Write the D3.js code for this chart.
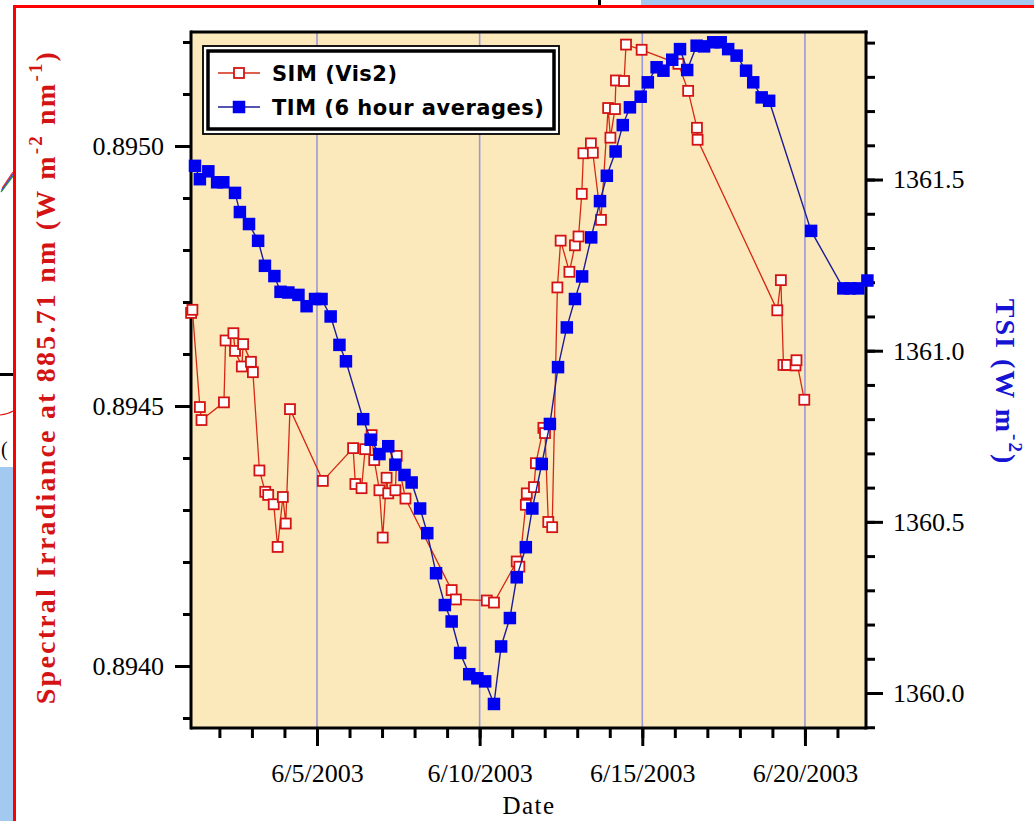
<!DOCTYPE html>
<html><head><meta charset="utf-8">
<script src="https://cdn.jsdelivr.net/npm/d3@7"></script>
<style>
html,body{margin:0;padding:0;background:#fff;}
svg{display:block;}
</style></head><body>
<svg id="chart" width="1034" height="821"></svg>
<script>
// SIM Vis2 spectral irradiance at 885.71 nm — time as day of June 2003 (fractional)
const simDay = [1.13, 1.17, 1.40, 1.45, 2.14, 2.19, 2.43, 2.48, 2.69, 2.73, 2.97, 3.03,
  3.23, 3.41, 3.50, 3.67, 3.79, 3.95, 4.04, 4.17, 5.18,
  6.11, 6.18, 6.37, 6.48, 6.68, 6.76, 6.92, 7.02, 7.14, 7.19, 7.41, 7.45, 7.72,
  9.14, 9.27, 10.22, 10.44,
  11.14, 11.22, 11.42, 11.45, 11.67, 11.73, 11.96, 12.01, 12.11, 12.23,
  12.39, 12.49, 12.76, 12.93, 13.04, 13.14, 13.19, 13.42, 13.48, 13.73,
  13.95, 14.02, 14.16, 14.19, 14.44, 14.50, 14.98,
  16.11, 16.41, 16.68, 16.70,
  19.15, 19.26, 19.34, 19.45, 19.71, 19.74, 19.98];
const simIrr = [0.894679, 0.894685, 0.894498, 0.894473, 0.894507, 0.894626, 0.894640, 0.894606, 0.894576, 0.894619, 0.894585, 0.894565,
  0.894376, 0.894335, 0.894329, 0.894311, 0.894229, 0.894325, 0.894274, 0.894494, 0.894356,
  0.894419, 0.894350, 0.894342, 0.894417, 0.894444, 0.894396, 0.894338, 0.894247, 0.894362, 0.894332, 0.894338, 0.894404, 0.894322,
  0.894146, 0.894128, 0.894126, 0.894122,
  0.894201, 0.894191, 0.894310, 0.894332, 0.894344, 0.894390, 0.894458, 0.894448, 0.894277, 0.894267,
  0.894728, 0.894818, 0.894758, 0.894809, 0.894826, 0.894908, 0.894986, 0.895005, 0.894987, 0.894858,
  0.895073, 0.895016, 0.895071, 0.895126, 0.895125, 0.895195, 0.895185,
  0.895158, 0.895106, 0.895035, 0.895012,
  0.894684, 0.894742, 0.894579, 0.894579, 0.894578, 0.894588, 0.894512];

// TIM total solar irradiance, 6 hour averages
const timDay = [1.25, 1.40, 1.66, 1.93, 2.12, 2.48, 2.63, 2.91, 3.19, 3.40,
  3.69, 3.88, 4.12, 4.43, 4.68, 4.94, 5.14, 5.42, 5.69, 5.89,
  6.42, 6.65, 6.92, 7.19, 7.41, 7.69, 7.91, 8.17, 8.39, 8.66,
  8.93, 9.14, 9.40, 9.68, 9.93, 10.17, 10.44, 10.66, 10.93, 11.14,
  11.42, 11.62, 11.91, 12.16, 12.41, 12.68, 12.93, 13.15, 13.43, 13.70,
  13.91, 14.18, 14.40, 14.62, 14.95, 15.17, 15.44, 15.65, 15.92, 16.16,
  16.38, 16.67, 16.90, 17.18, 17.41, 17.64, 17.90, 18.19, 18.41, 18.67,
  18.90, 20.19, 21.18, 21.39, 21.64, 21.92];
const timTsi = [1361.540, 1361.501, 1361.524, 1361.492, 1361.492, 1361.461, 1361.405, 1361.370, 1361.321, 1361.248,
  1361.218, 1361.172, 1361.170, 1361.163, 1361.130, 1361.151, 1361.151, 1361.100, 1361.017, 1360.969,
  1360.800, 1360.740, 1360.698, 1360.721, 1360.667, 1360.637, 1360.615, 1360.539, 1360.467, 1360.350,
  1360.257, 1360.209, 1360.117, 1360.055, 1360.043, 1360.034, 1359.968, 1360.136, 1360.219, 1360.338,
  1360.426, 1360.539, 1360.669, 1360.786, 1360.952, 1361.068, 1361.151, 1361.217, 1361.331, 1361.437,
  1361.511, 1361.582, 1361.659, 1361.711, 1361.742, 1361.784, 1361.828, 1361.818, 1361.850, 1361.881,
  1361.820, 1361.891, 1361.889, 1361.901, 1361.901, 1361.881, 1361.862, 1361.818, 1361.784, 1361.740,
  1361.730, 1361.350, 1361.182, 1361.182, 1361.182, 1361.205];

const dateTickDays = [5, 10, 15, 20];
const leftTicks = [0.8940, 0.8945, 0.8950];
const rightTicks = [1360.0, 1360.5, 1361.0, 1361.5];
const legendLabels = ["SIM (Vis2)", "TIM (6 hour averages)"];

const base = new Date(2003, 5, 1);
const toDate = d => new Date(base.getTime() + (d - 1) * 864e5);

const svg = d3.select("#chart");
const W = 1034, H = 821;
const plot = {left: 191, right: 866, top: 32, bottom: 728};

const RED = "#d41414", BLUE = "#0000f0";
const SERIF = "'Liberation Serif','Times New Roman',serif";

// ---- slide background pieces around the chart ----
const deco = svg.append("g");
deco.append("rect").attr("x", 641).attr("y", 0).attr("width", W - 641).attr("height", 5).attr("fill", "#a3c9f1");
deco.append("rect").attr("x", 0).attr("y", 467).attr("width", 13).attr("height", H - 467).attr("fill", "#a3c9f1");
deco.append("rect").attr("x", 0).attr("y", 373).attr("width", 13).attr("height", 3).attr("fill", "#000");
deco.append("path").attr("d", "M0,415 Q8,414 13,411").attr("fill", "none").attr("stroke", "#e01010").attr("stroke-width", 1.2);
deco.append("text").attr("x", 1).attr("y", 456).attr("font-family", SERIF).attr("font-size", 20).text("(");
[["#2a9a2a", 0], ["#3050e0", 2], ["#e03030", 4]].forEach(([c, o]) => {
  deco.append("path").attr("d", `M${1 + o * 0.3},${192 - o} L${13},${176 - o}`).attr("stroke", c).attr("stroke-width", 1.3).attr("fill", "none");
});
deco.append("rect").attr("x", 598).attr("y", 0).attr("width", 3).attr("height", 6).attr("fill", "#000");
deco.append("path").attr("d", `M14.5,${H + 5} L14.5,6.5 L${W + 5},6.5`).attr("fill", "none").attr("stroke", "#ff0000").attr("stroke-width", 3);

// ---- scales ----
const x = d3.scaleTime().domain([toDate(1.127), toDate(21.877)]).range([plot.left, plot.right]);
const yL = d3.scaleLinear().domain([0.8938808, 0.8952192]).range([plot.bottom, plot.top]);
const yR = d3.scaleLinear().domain([1359.8978, 1361.931]).range([plot.bottom, plot.top]);

// plot background
svg.append("rect").attr("x", plot.left).attr("y", plot.top)
  .attr("width", plot.right - plot.left).attr("height", plot.bottom - plot.top)
  .attr("fill", "#fce9bb");

// vertical guide lines at the labelled dates
svg.append("g").selectAll("line").data(dateTickDays.map(toDate)).join("line")
  .attr("x1", d => x(d)).attr("x2", d => x(d))
  .attr("y1", plot.top).attr("y2", plot.bottom)
  .attr("stroke", "#9a98d8").attr("stroke-width", 1.6);

// ---- axes ----
function styleAxis(g, width) {
  g.select(".domain").remove();
  g.selectAll(".tick line").attr("stroke", "#000").attr("stroke-width", width);
  g.selectAll(".tick text").attr("font-family", SERIF).attr("font-size", 26).attr("fill", "#000");
}

const dayMinor = d3.timeDay.range(toDate(2), toDate(21.5));
svg.append("g").attr("transform", `translate(0,${plot.bottom})`)
  .call(d3.axisBottom(x).tickValues(dayMinor).tickSize(10).tickFormat(""))
  .call(g => styleAxis(g, 3));
svg.append("g").attr("transform", `translate(0,${plot.bottom})`)
  .call(d3.axisBottom(x).tickValues(dateTickDays.map(toDate)).tickSize(18).tickPadding(18)
    .tickFormat(d3.timeFormat("%-m/%-d/%Y")))
  .call(g => styleAxis(g, 3));

const leftMinor = d3.range(8939, 8953).map(v => v / 10000);
svg.append("g").attr("transform", `translate(${plot.left},0)`)
  .call(d3.axisLeft(yL).tickValues(leftMinor).tickSize(8).tickFormat(""))
  .call(g => styleAxis(g, 3));
svg.append("g").attr("transform", `translate(${plot.left},0)`)
  .call(d3.axisLeft(yL).tickValues(leftTicks).tickSize(16).tickPadding(11).tickFormat(d3.format(".4f")))
  .call(g => styleAxis(g, 3));

const rightMinor = d3.range(13599, 13620).map(v => v / 10);
svg.append("g").attr("transform", `translate(${plot.right},0)`)
  .call(d3.axisRight(yR).tickValues(rightMinor).tickSize(9).tickFormat(""))
  .call(g => styleAxis(g, 3));
svg.append("g").attr("transform", `translate(${plot.right},0)`)
  .call(d3.axisRight(yR).tickValues(rightTicks).tickSize(17).tickPadding(10).tickFormat(d3.format(".1f")))
  .call(g => styleAxis(g, 3));

// frame lines
const frame = svg.append("g").attr("stroke", "#000").attr("stroke-width", 3);
frame.append("line").attr("x1", plot.left).attr("x2", plot.left).attr("y1", plot.top - 1.5).attr("y2", plot.bottom + 1.5);
frame.append("line").attr("x1", plot.right).attr("x2", plot.right).attr("y1", plot.top - 1.5).attr("y2", plot.bottom + 1.5);
frame.append("line").attr("x1", plot.left).attr("x2", plot.right).attr("y1", plot.bottom).attr("y2", plot.bottom);
frame.append("line").attr("x1", plot.left).attr("x2", plot.right + 1.5).attr("y1", plot.top).attr("y2", plot.top);

// ---- series ----
const sim = simDay.map((d, i) => ({t: toDate(d), v: simIrr[i]}));
const tim = timDay.map((d, i) => ({t: toDate(d), v: timTsi[i]}));

svg.append("path").datum(sim)
  .attr("d", d3.line().x(d => x(d.t)).y(d => yL(d.v)))
  .attr("fill", "none").attr("stroke", "#d42a14").attr("stroke-width", 1.3);
const sSim = 10;
svg.append("g").selectAll("rect").data(sim).join("rect")
  .attr("x", d => x(d.t) - sSim / 2).attr("y", d => yL(d.v) - sSim / 2)
  .attr("width", sSim).attr("height", sSim)
  .attr("fill", "#fff").attr("stroke", RED).attr("stroke-width", 1.8);

svg.append("path").datum(tim)
  .attr("d", d3.line().x(d => x(d.t)).y(d => yR(d.v)))
  .attr("fill", "none").attr("stroke", "#1c1c96").attr("stroke-width", 1.4);
const sTim = 12.5;
svg.append("g").selectAll("rect").data(tim).join("rect")
  .attr("x", d => x(d.t) - sTim / 2).attr("y", d => yR(d.v) - sTim / 2)
  .attr("width", sTim).attr("height", sTim)
  .attr("fill", BLUE);

// ---- legend ----
const lg = svg.append("g");
lg.append("rect").attr("x", 203).attr("y", 46).attr("width", 356).attr("height", 88)
  .attr("fill", "#fff").attr("stroke", "#000").attr("stroke-width", 1.8);
lg.append("rect").attr("x", 208).attr("y", 51).attr("width", 346).attr("height", 78)
  .attr("fill", "none").attr("stroke", "#000").attr("stroke-width", 3.5);
const legRows = [
  {y: 73, line: "#d42a14", fill: "#fff", stroke: RED, size: 10},
  {y: 107, line: "#1c1c96", fill: BLUE, stroke: "none", size: 12.5}
];
legRows.forEach((r, i) => {
  lg.append("line").attr("x1", 218).attr("x2", 260).attr("y1", r.y).attr("y2", r.y)
    .attr("stroke", r.line).attr("stroke-width", 1.3);
  lg.append("rect").attr("x", 239 - r.size / 2).attr("y", r.y - r.size / 2)
    .attr("width", r.size).attr("height", r.size)
    .attr("fill", r.fill).attr("stroke", r.stroke).attr("stroke-width", 1.8);
  lg.append("text").attr("x", 272).attr("y", r.y + 8)
    .attr("font-family", "'DejaVu Sans',sans-serif").attr("font-weight", "bold")
    .attr("font-size", 21).attr("letter-spacing", 0.5).attr("fill", "#000")
    .text(legendLabels[i]);
});

// ---- axis titles ----
const lt = svg.append("text").attr("transform", "translate(55,377) rotate(-90)")
  .attr("text-anchor", "middle").attr("font-family", SERIF).attr("font-weight", "bold")
  .attr("font-size", 28).attr("letter-spacing", 2.2).attr("fill", RED);
lt.append("tspan").text("Spectral Irradiance at 885.71 nm (W m");
lt.append("tspan").attr("dy", -13).attr("font-size", 19).text("-2");
lt.append("tspan").attr("dy", 13).text(" nm");
lt.append("tspan").attr("dy", -13).attr("font-size", 19).text("-1");
lt.append("tspan").attr("dy", 13).text(")");

const rt = svg.append("text").attr("transform", "translate(996,382) rotate(90)")
  .attr("text-anchor", "middle").attr("font-family", SERIF).attr("font-weight", "bold")
  .attr("font-size", 28).attr("letter-spacing", 2).attr("fill", "#1414d2");
rt.append("tspan").text("TSI (W m");
rt.append("tspan").attr("dy", -13).attr("font-size", 19).text("-2");
rt.append("tspan").attr("dy", 13).text(")");

svg.append("text").attr("x", 529).attr("y", 814).attr("text-anchor", "middle")
  .attr("font-family", SERIF).attr("font-size", 25).attr("letter-spacing", 1.5).attr("fill", "#000")
  .text("Date");
</script>
</body></html>
